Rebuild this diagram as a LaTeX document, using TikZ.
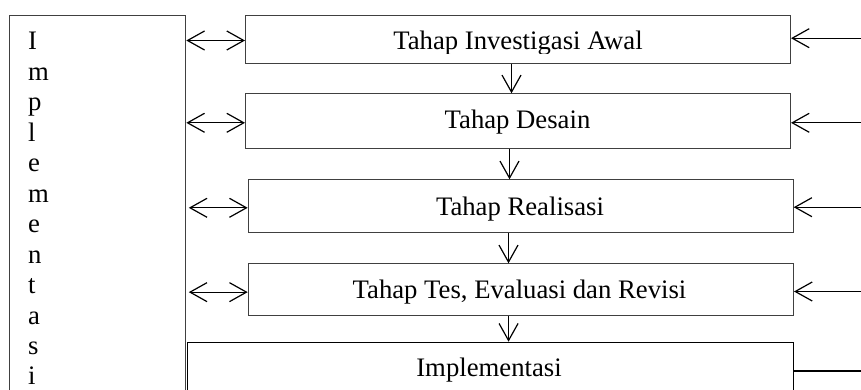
\documentclass[tikz,border=0pt]{standalone}
\usepackage{fontspec}
\setmainfont{Liberation Serif}
\usetikzlibrary{arrows.meta}
\begin{document}
\begin{tikzpicture}[x=1pt,y=-1pt,
  boxstyle/.style={draw=black!75, line width=1pt, inner sep=0pt, anchor=north west},
  txt/.style={font=\fontsize{26.7}{30.4}\selectfont, inner sep=0pt, anchor=base},
  link/.style={line width=1.2pt, draw=black},
  tip/.tip={Straight Barb[length=17pt,width=19pt]}
]
\useasboundingbox (0,0) rectangle (861,390);
\clip (0,0) rectangle (861,390);
% boxes
\node[boxstyle, minimum width=176.6pt, minimum height=400pt] (L) at (8.7,14.7) {};
\node[boxstyle, minimum width=545pt, minimum height=48pt] (b1) at (245,14.7) {};
\node[boxstyle, minimum width=545pt, minimum height=54.4pt] (b2) at (245,93.3) {};
\node[boxstyle, minimum width=545pt, minimum height=53pt] (b3) at (247.7,179.3) {};
\node[boxstyle, minimum width=545.3pt, minimum height=51.7pt] (b4) at (247.7,263.3) {};
\node[boxstyle, draw=black, line width=1.2pt, minimum width=606.3pt, minimum height=80pt] (b5) at (186.7,341.7) {};
% texts
\begin{scope}
  \clip (245,14.7) rectangle (790,53.5);
  \node[txt] (t1) at (518,49.3) {Tahap Investigasi Awal};
\end{scope}
\node[txt] (t2) at (517.5,129) {Tahap Desain};
\node[txt] (t3) at (520,215) {Tahap Realisasi};
\node[txt] (t4) at (519.5,298.5) {Tahap Tes, Evaluasi dan Revisi};
\node[txt] (t5) at (489,376.7) {Implementasi};
\foreach \c [count=\i from 0] in {I,m,p,l,e,m,e,n,t,a,s,i}
  \node[txt, anchor=base west] (v\i) at (28,{50+30.45*\i}) {\c};
% left double arrows
\coordinate (a1) at ([yshift=-1.3pt]b1.west);
\coordinate (a2) at ([yshift=-1.8pt]b2.west);
\coordinate (a3) at ([yshift=-1.5pt]b3.west);
\coordinate (a4) at ([yshift=-2.5pt]b4.west);
\draw[link, tip-tip] (L.east |- a1) -- (a1);
\draw[link, tip-tip] (L.east |- a2) -- (a2);
\draw[link, tip-tip] ([xshift=2.5pt]L.east |- a3) -- (a3);
\draw[link, tip-tip] ([xshift=2.5pt]L.east |- a4) -- (a4);
% right feedback arrows
\coordinate (R) at (861,0);
\coordinate (r1) at ([yshift=1pt]b1.east);
\coordinate (r2) at ([yshift=-1.8pt]b2.east);
\coordinate (r3) at ([yshift=-0.9pt]b3.east);
\coordinate (r4) at ([yshift=-1.85pt]b4.east);
\coordinate (r5) at ([yshift=-29.3pt]b5.north east);
\draw[link, tip-] (r1) -- (R |- r1);
\draw[link, tip-] (r2) -- (R |- r2);
\draw[link, tip-] (r3) -- (R |- r3);
\draw[link, tip-] (r4) -- (R |- r4);
\draw[link] (r5) -- (R |- r5);
% down arrows
\draw[link, -tip] ([xshift=-6.5pt]b1.south) -- ([xshift=-6.5pt]b1.south |- b2.north);
\draw[link, -tip] ([xshift=-8.5pt]b2.south) -- ([xshift=-8.5pt]b2.south |- b3.north);
\draw[link, -tip] ([xshift=-12.2pt]b3.south) -- ([xshift=-12.2pt]b3.south |- b4.north);
\draw[link, -tip] ([xshift=-12.3pt]b4.south) -- ([xshift=-12.3pt]b4.south |- b5.north);
\end{tikzpicture}
\end{document}
